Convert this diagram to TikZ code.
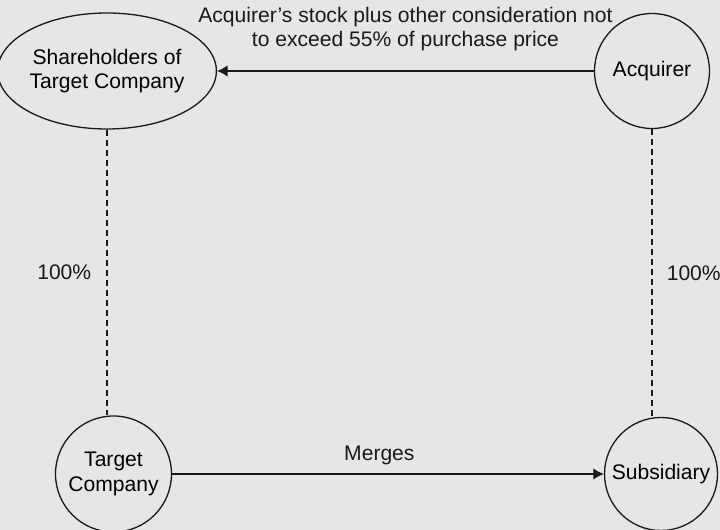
\documentclass[tikz,border=0pt]{standalone}
\usepackage{fontspec}
\setmainfont{Liberation Sans}
\usetikzlibrary{positioning}
\usetikzlibrary{shapes}
\usetikzlibrary{arrows.meta}
\definecolor{bgpanel}{HTML}{E6E6E6}
\definecolor{inkline}{HTML}{1A1A1A}

\begin{document}
\begin{tikzpicture}[
  party/.style = {draw = inkline, line width=0.75pt, inner sep=0pt, align=center, font=\fontsize{12}{14}\selectfont},
  flow/.style = {-{Latex[length=6pt,width=6.5pt]}, inkline, line width=0.75pt},
  stake/.style = {inkline, line width=0.9pt, dash pattern=on 3.4pt off 2.3pt},
  tag/.style = {inner sep=0pt, align=center, font=\fontsize{12}{14.2}\selectfont}
]

\fill[bgpanel] (0,0) rectangle (14.4,10.6);
\useasboundingbox (0,0) rectangle (14.4,10.6);

% parties
\node[party, ellipse, minimum width=4.12cm, minimum height=2.32cm] at (2.14, 9.18) (Holders) {Shareholders of\\Target Company};
\node[party, circle, minimum size=2.3cm] at (13.04, 9.18) (Acq) {Acquirer};
\node[party, circle, minimum size=2.32cm] at (2.27, 1.12) (Target) {Target\\Company};
\node[party, circle, minimum size=2.26cm] at (13.22, 1.12) (Sub) {Subsidiary};

% payment and merger
\draw[flow] (Acq) -- (Holders) node[tag, midway, above=0.38cm] (Pay) {Acquirer’s stock plus other consideration not\\to exceed 55\% of purchase price};
\draw[flow] (Target) -- (Sub) node[tag, pos=0.48, above=0.17cm] (Mrg) {Merges};

% ownership
\draw[stake] (Holders.south) -- (Holders.south |- Target.north) node[tag, midway, left=0.3cm] (OwnT) {100\%};
\draw[stake] (Acq.south) -- (Acq.south |- Sub.north) node[tag, midway, right=0.28cm] (OwnS) {100\%};

\end{tikzpicture}
\end{document}
